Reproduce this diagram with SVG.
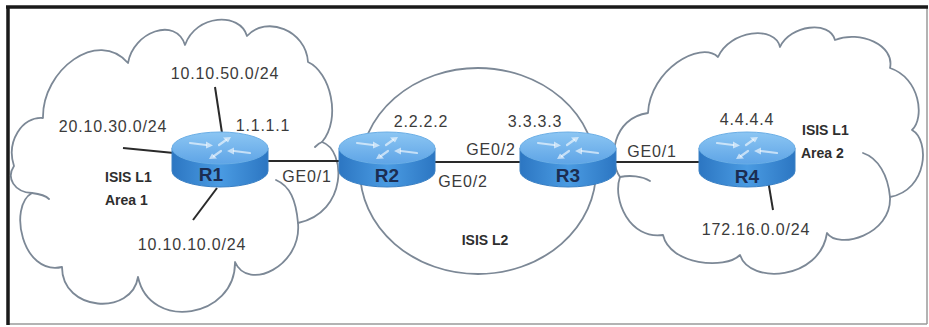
<svg xmlns="http://www.w3.org/2000/svg" width="929" height="327" viewBox="0 0 929 327">
<style>
.lbl{font-family:"Liberation Sans",Arial,sans-serif;font-size:16px;fill:#3b3b3b;letter-spacing:0.8px}
.bold{font-family:"Liberation Sans",Arial,sans-serif;font-size:14px;font-weight:bold;fill:#2e2e2e}
.rname{font-family:"Liberation Sans",Arial,sans-serif;font-size:19px;font-weight:bold;fill:#1b2d52;text-anchor:middle}
.cloud{fill:#ffffff;stroke:#7c8896;stroke-width:1.8;stroke-linejoin:round}
.curl{fill:none;stroke:#7c8896;stroke-width:1.8;stroke-linecap:round}
.link{stroke:#2a2a2a;stroke-width:2;fill:none}
.sym{stroke:#ffffff;stroke-opacity:0.6;stroke-width:2.2;fill:none;stroke-linecap:round}
.symh{fill:#ffffff;fill-opacity:0.6}
</style>
<defs>
<linearGradient id="side" x1="0" y1="0" x2="1" y2="0">
<stop offset="0" stop-color="#2c76c2"/>
<stop offset="0.5" stop-color="#4a9be2"/>
<stop offset="1" stop-color="#2c76c2"/>
</linearGradient>
<linearGradient id="top" x1="0" y1="0" x2="0" y2="1">
<stop offset="0" stop-color="#8cc6f3"/>
<stop offset="1" stop-color="#5ea4e6"/>
</linearGradient>
<g id="router">
<path d="M -48,148 L -48,171 A 48,16 0 0 0 48,171 L 48,148 Z" fill="url(#side)" stroke="#3a80c4" stroke-width="1"/>
<ellipse cx="0" cy="148" rx="48" ry="16" fill="url(#top)" stroke="#6aaee6" stroke-width="1"/>
<path class="sym" d="M -30,143 L -14,145 M 30,153 L 14,151 M -1,145 L 6,140 M 1,151 L -6,156"/>
<path class="symh" d="M -14,141.5 L -7,145.6 L -14,148.5 Z M 14,147.5 L 7,151 L 14,154.5 Z M 3,137.5 L 11,137 L 8,142.5 Z M -3,158.5 L -11,159 L -8,153.5 Z"/>
</g>
</defs>
<rect x="0" y="0" width="929" height="327" fill="#ffffff"/>
<g id="frame">
<line x1="8" y1="324" x2="927" y2="324" stroke="#9a9a9a" stroke-width="1.5"/>
<line x1="927" y1="7" x2="927" y2="324" stroke="#9a9a9a" stroke-width="1.5"/>
<line x1="6" y1="7" x2="928" y2="7" stroke="#1a1a1a" stroke-width="3.5"/>
<line x1="8" y1="6" x2="8" y2="325" stroke="#1a1a1a" stroke-width="3.5"/>
</g>
<g id="area1">
<path class="cloud" d="M 14,166 C 6,142 22,116 43,118 C 42,70 98,28 128,63 C 133,32 176,16 185,45 C 196,14 240,12 247,36 C 266,15 306,30 308,62 C 330,72 342,118 322,142 C 346,150 348,212 298,223 C 302,266 248,292 235,262 C 236,318 150,332 138,277 C 132,316 62,312 62,267 C 22,276 8,206 32,193 C 14,192 6,178 14,166 Z"/>
<path class="curl" d="M 298,223 C 296,200 290,186 276,180 M 32,193 C 40,194 46,196 49,199 M 322,142 C 319,143 317,145 315,147"/>
<text class="bold" x="105" y="182">ISIS L1</text>
<text class="bold" x="105" y="205">Area 1</text>
</g>
<g id="area2">
<path class="cloud" d="M 648,113 C 650,70 700,40 718,57 C 730,30 775,25 780,47 C 790,25 830,20 835,40 C 860,30 895,45 890,68 C 920,78 925,118 912,130 C 930,140 928,190 890,197 C 892,235 838,250 827,233 C 820,280 750,285 740,255 C 725,270 670,265 663,235 C 630,240 612,200 620,177 C 608,160 612,118 648,113 Z"/>
<path class="curl" d="M 890,197 C 888,175 878,158 863,153 M 620,177 C 630,175 642,176 650,181"/>
<text class="bold" x="802" y="135">ISIS L1</text>
<text class="bold" x="801" y="158">Area 2</text>
</g>
<g id="l2area">
<ellipse cx="478" cy="171" rx="118" ry="103" fill="none" stroke="#7c8896" stroke-width="1.8"/>
<text class="bold" x="485" y="245" text-anchor="middle">ISIS L2</text>
</g>
<g id="connectors">
<line class="link" x1="268" y1="161" x2="340" y2="161"/>
<line class="link" x1="435" y1="162" x2="522" y2="162"/>
<line class="link" x1="615" y1="162" x2="700" y2="162"/>
<line class="link" x1="215" y1="87" x2="222" y2="133"/>
<line class="link" x1="123" y1="148" x2="174" y2="153"/>
<line class="link" x1="193" y1="220" x2="217" y2="188"/>
<line class="link" x1="768" y1="180" x2="773" y2="210"/>
</g>
<g id="R1">
<use href="#router" transform="translate(220,0)"/>
<text class="rname" x="211" y="181">R1</text>
<text class="lbl" x="225" y="79" text-anchor="middle">10.10.50.0/24</text>
<text class="lbl" x="113" y="132" text-anchor="middle">20.10.30.0/24</text>
<text class="lbl" x="263" y="131" text-anchor="middle">1.1.1.1</text>
<text class="lbl" x="192" y="250" text-anchor="middle">10.10.10.0/24</text>
<text class="lbl" x="307" y="182" text-anchor="middle">GE0/1</text>
</g>
<g id="R2">
<use href="#router" transform="translate(387,0)"/>
<text class="rname" x="387" y="182">R2</text>
<text class="lbl" x="421" y="127" text-anchor="middle">2.2.2.2</text>
<text class="lbl" x="463" y="187" text-anchor="middle">GE0/2</text>
</g>
<g id="R3">
<use href="#router" transform="translate(568,0)"/>
<text class="rname" x="568" y="182">R3</text>
<text class="lbl" x="535" y="127" text-anchor="middle">3.3.3.3</text>
<text class="lbl" x="491" y="155" text-anchor="middle">GE0/2</text>
<text class="lbl" x="652" y="157" text-anchor="middle">GE0/1</text>
</g>
<g id="R4">
<use href="#router" transform="translate(747,0)"/>
<text class="rname" x="747" y="183">R4</text>
<text class="lbl" x="747" y="125" text-anchor="middle">4.4.4.4</text>
<text class="lbl" x="756" y="235" text-anchor="middle">172.16.0.0/24</text>
</g>
</svg>
